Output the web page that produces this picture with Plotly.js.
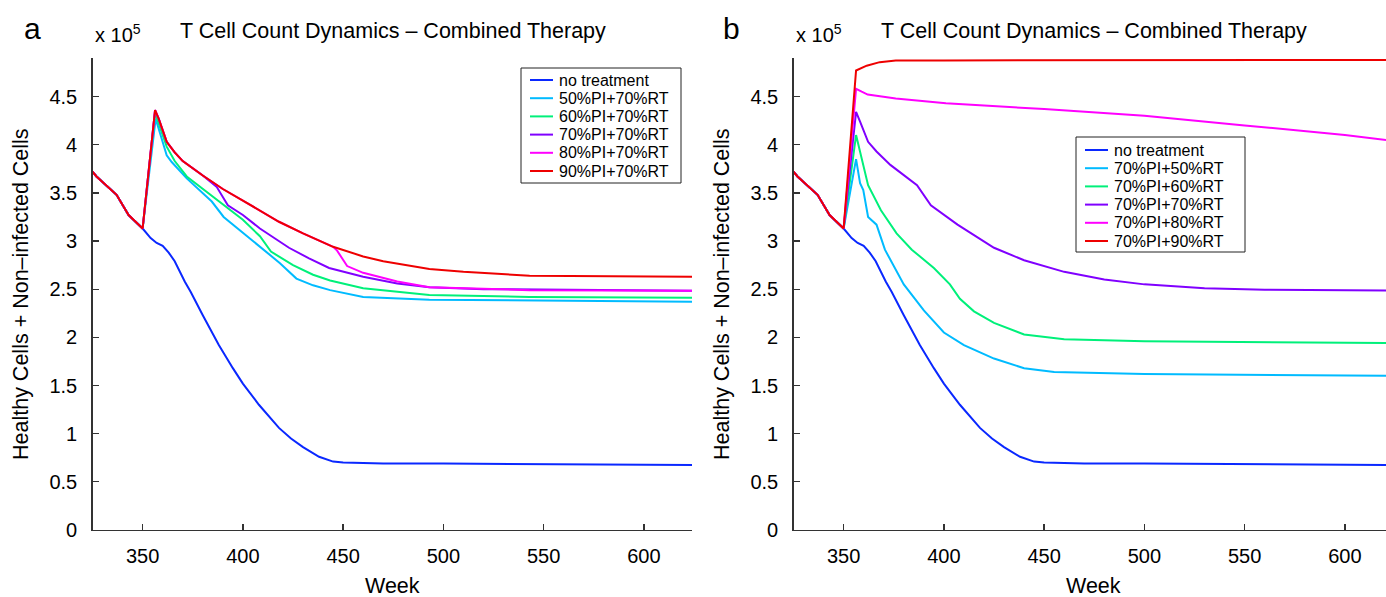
<!DOCTYPE html>
<html>
<head>
<meta charset="utf-8">
<script src="https://cdn.plot.ly/plotly-3.0.1.min.js"></script>
<style>html,body{margin:0;padding:0;background:#fff}#chart{width:1386px;height:597px}</style>
</head>
<body>
<div id="chart"></div>
<script>
// values in units of 1e5 cells
const preWeeks = [325, 327, 337, 343, 350];
const preVals  = [3.72, 3.67, 3.48, 3.27, 3.13];

const noTreatWeeks = [354, 357, 360, 363, 366, 371, 374, 380, 388, 395, 400, 408, 413, 418, 424, 430, 438, 445, 450, 470, 500, 550, 600, 624];
const noTreatVals  = [3.03, 2.98, 2.95, 2.88, 2.79, 2.58, 2.47, 2.23, 1.92, 1.68, 1.52, 1.30, 1.18, 1.06, 0.95, 0.86, 0.76, 0.71, 0.70, 0.69, 0.69, 0.685, 0.68, 0.675];

// Panel a: varying PI, 70% RT
const a50Weeks = [356.5, 362, 364.5, 372, 384.5, 390.4, 402, 418.5, 426.7, 435, 443.5, 460, 493, 543, 624];
const a50Vals  = [4.27, 3.89, 3.82, 3.65, 3.41, 3.25, 3.05, 2.77, 2.61, 2.54, 2.49, 2.42, 2.39, 2.38, 2.37];
const a60Weeks = [356.2, 362, 366, 372, 387, 400, 408.5, 414, 425, 435, 443.5, 460, 493, 543, 624];
const a60Vals  = [4.33, 3.98, 3.83, 3.67, 3.43, 3.22, 3.05, 2.89, 2.75, 2.65, 2.59, 2.51, 2.44, 2.42, 2.41];
const a70Weeks = [356.2, 358, 362, 366, 370, 380, 387, 392.5, 400, 408.5, 423, 433, 443, 460, 477, 493, 520, 624];
const a70Vals  = [4.36, 4.27, 4.03, 3.92, 3.83, 3.68, 3.56, 3.37, 3.27, 3.13, 2.93, 2.82, 2.72, 2.63, 2.56, 2.52, 2.50, 2.485];
const a80Weeks = [356.2, 358, 362, 366, 370, 380, 390, 400, 418, 430, 445, 447, 452, 460, 477, 493, 520, 543, 624];
const a80Vals  = [4.36, 4.27, 4.03, 3.92, 3.83, 3.68, 3.54, 3.42, 3.20, 3.08, 2.94, 2.90, 2.74, 2.67, 2.58, 2.52, 2.50, 2.49, 2.485];
const a90Weeks = [356.2, 358, 362, 366, 370, 380, 390, 400, 418, 430, 445, 460, 470, 493, 510, 543, 580, 624];
const a90Vals  = [4.36, 4.27, 4.03, 3.92, 3.83, 3.68, 3.54, 3.42, 3.20, 3.08, 2.94, 2.84, 2.79, 2.71, 2.68, 2.64, 2.635, 2.63];

// Panel b: 70% PI, varying RT
const b50Weeks = [356.2, 358.2, 359.8, 362.2, 366.4, 370.6, 380, 390, 400, 410, 425, 440, 455, 500, 624];
const b50Vals  = [3.85, 3.60, 3.53, 3.25, 3.17, 2.91, 2.55, 2.28, 2.05, 1.92, 1.78, 1.68, 1.64, 1.62, 1.60];
const b60Weeks = [356.2, 362.2, 368.6, 376.4, 384, 395, 403, 408, 415, 425, 440, 460, 500, 624];
const b60Vals  = [4.10, 3.58, 3.32, 3.08, 2.91, 2.72, 2.55, 2.40, 2.27, 2.15, 2.03, 1.98, 1.96, 1.94];
const b70Weeks = [356.2, 358.2, 362.2, 366.4, 373.3, 386.6, 393.5, 406.8, 425, 440, 460, 480, 500, 530, 560, 624];
const b70Vals  = [4.34, 4.24, 4.03, 3.93, 3.79, 3.58, 3.37, 3.17, 2.93, 2.80, 2.68, 2.60, 2.55, 2.51, 2.495, 2.485];
const b80Weeks = [356.2, 359, 362, 376, 401, 450, 500, 550, 600, 624];
const b80Vals  = [4.58, 4.55, 4.52, 4.48, 4.43, 4.37, 4.30, 4.20, 4.10, 4.04];
const b90Weeks = [356.2, 361.5, 368, 376, 400, 624];
const b90Vals  = [4.77, 4.82, 4.857, 4.873, 4.875, 4.88];

const namesA = ['no treatment', '50%PI+70%RT', '60%PI+70%RT', '70%PI+70%RT', '80%PI+70%RT', '90%PI+70%RT'];
const namesB = ['no treatment', '70%PI+50%RT', '70%PI+60%RT', '70%PI+70%RT', '70%PI+80%RT', '70%PI+90%RT'];
const colors = ['#0a28ff', '#00bbff', '#00f07a', '#8000ff', '#ff00ff', '#ee0000'];

const W = 1386, H = 597;
const px = x => x / W;
const py = y => (H - y) / H;
const FAM = 'Liberation Sans, Arial, sans-serif';

const seriesA = [[noTreatWeeks, noTreatVals], [a50Weeks, a50Vals], [a60Weeks, a60Vals], [a70Weeks, a70Vals], [a80Weeks, a80Vals], [a90Weeks, a90Vals]];
const seriesB = [[noTreatWeeks, noTreatVals], [b50Weeks, b50Vals], [b60Weeks, b60Vals], [b70Weeks, b70Vals], [b80Weeks, b80Vals], [b90Weeks, b90Vals]];

const traces = [];
seriesA.forEach((s, i) => traces.push({
  x: preWeeks.concat(s[0]), y: preVals.concat(s[1]), type: 'scatter', mode: 'lines',
  name: namesA[i], line: {color: colors[i], width: 2}, xaxis: 'x', yaxis: 'y', showlegend: false
}));
seriesB.forEach((s, i) => traces.push({
  x: preWeeks.concat(s[0]), y: preVals.concat(s[1]), type: 'scatter', mode: 'lines',
  name: namesB[i], line: {color: colors[i], width: 2}, xaxis: 'x2', yaxis: 'y2', showlegend: false
}));

const axCommon = {
  showline: true, linecolor: '#333', linewidth: 1.3, ticks: 'inside', ticklen: 6, tickwidth: 1.3,
  tickcolor: '#333', showgrid: false, zeroline: false, mirror: false,
  tickfont: {family: FAM, size: 20, color: '#000'}
};
const yTicks = [0, 0.5, 1, 1.5, 2, 2.5, 3, 3.5, 4, 4.5];
const yTickText = ['0', '0.5', '1', '1.5', '2', '2.5', '3', '3.5', '4', '4.5'];
const xTicks = [350, 400, 450, 500, 550, 600];

const yDom = [py(530), py(58)];

const shapes = [];
const annotations = [];
function ann(text, x, y, size, extra) {
  annotations.push(Object.assign({text: text, x: px(x), y: py(y), xref: 'paper', yref: 'paper', showarrow: false,
    xanchor: 'center', yanchor: 'middle', font: {family: FAM, size: size, color: '#000'}}, extra || {}));
}
// manual legends (box, line sample, label)
function legendBox(names, x0, y0, x1, y1, rowY0, rowStep, lineX0, lineX1, textX) {
  shapes.push({type: 'rect', xref: 'paper', yref: 'paper', x0: px(x0), x1: px(x1), y0: py(y1), y1: py(y0),
    fillcolor: '#fff', line: {color: '#222', width: 1}, layer: 'above'});
  names.forEach((n, i) => {
    const yy = rowY0 + i * rowStep;
    shapes.push({type: 'line', xref: 'paper', yref: 'paper', x0: px(lineX0), x1: px(lineX1), y0: py(yy), y1: py(yy),
      line: {color: colors[i], width: 2}, layer: 'above'});
    ann(n, textX, yy, 16, {xanchor: 'left'});
  });
}
legendBox(namesA, 521, 68, 681, 183, 80, 18.2, 530, 553, 557);
legendBox(namesB, 1076, 137, 1245, 252, 150, 18.2, 1085, 1108, 1112);

ann('a', 32, 28, 30);
ann('b', 731, 28, 30);
ann('x 10<sup>5</sup>', 93, 34, 20, {xanchor: 'left'});
ann('x 10<sup>5</sup>', 794, 34, 20, {xanchor: 'left'});
ann('T Cell Count Dynamics \u2013 Combined Therapy', 393, 31, 21.5);
ann('T Cell Count Dynamics \u2013 Combined Therapy', 1094, 31, 21.5);
ann('Week', 392, 586, 21.5);
ann('Week', 1093, 586, 21.5);
ann('Healthy Cells + Non\u2013infected Cells', 21, 294, 21.5, {textangle: -90});
ann('Healthy Cells + Non\u2013infected Cells', 722, 294, 21.5, {textangle: -90});

const layout = {
  width: W, height: H, margin: {l: 0, r: 0, t: 0, b: 0}, paper_bgcolor: '#fff', plot_bgcolor: '#fff',
  font: {family: FAM, size: 18, color: '#000'}, showlegend: false,
  xaxis: Object.assign({}, axCommon, {domain: [px(92.5), px(692)], range: [325, 624], tickvals: xTicks, anchor: 'y', ticklabelstandoff: 8}),
  yaxis: Object.assign({}, axCommon, {domain: yDom, range: [0, 4.9], tickvals: yTicks, ticktext: yTickText, anchor: 'x', ticklabelstandoff: 10}),
  xaxis2: Object.assign({}, axCommon, {domain: [px(793.5), 1], range: [325, 620.5], tickvals: xTicks, anchor: 'y2', ticklabelstandoff: 8}),
  yaxis2: Object.assign({}, axCommon, {domain: yDom, range: [0, 4.9], tickvals: yTicks, ticktext: yTickText, anchor: 'x2', ticklabelstandoff: 10}),
  shapes: shapes,
  annotations: annotations
};

Plotly.newPlot('chart', traces, layout, {displayModeBar: false, staticPlot: true});
</script>
</body>
</html>
